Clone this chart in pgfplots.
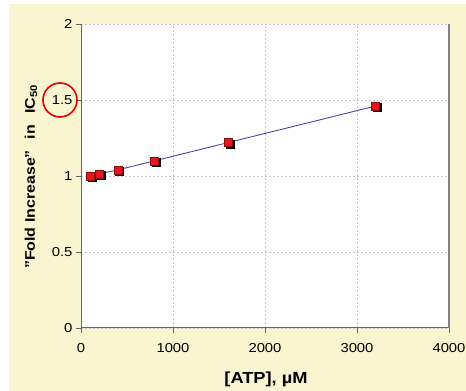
\documentclass[border=0pt]{standalone}
\usepackage{pgfplots}
\pgfplotsset{compat=1.18}
\usepackage{fontspec}
\setmainfont[FakeStretch=1.14]{Liberation Sans}
\definecolor{beige}{HTML}{F8F5D0}
\definecolor{linecol}{HTML}{4848A0}
\definecolor{mred}{HTML}{E8141C}
\definecolor{gridc}{HTML}{C8C8C8}
\begin{document}
\begin{tikzpicture}[x=1pt,y=1pt]
\useasboundingbox (0,0) rectangle (466,391);
\fill[white] (0,0) rectangle (466,391);
\fill[beige] (9,0) rectangle (466,387);
\begin{axis}[
  at={(81pt,63pt)}, anchor=south west,
  scale only axis, width=368pt, height=304pt,
  xmin=0, xmax=4000, ymin=0, ymax=2,
  xtick={0,1000,2000,3000,4000},
  ytick={0,0.5,1,1.5,2},
  axis x line*=bottom, axis y line*=left,
  axis line style={draw=gray!80!black, line width=1pt},
  axis background/.style={fill=white},
  tick align=outside, major tick length=5pt,
  tick style={draw=gray!80!black, line width=0.8pt},
  grid=major,
  major grid style={draw=gridc, dash pattern=on 2pt off 2pt, line width=0.6pt},
  tick label style={font=\fontsize{13}{15}\selectfont},
  /pgf/number format/assume math mode=true,
  /pgf/number format/1000 sep={},
  xticklabel={\rule{0pt}{16pt}\pgfmathprintnumber{\tick}},
  yticklabel={\pgfmathprintnumber{\tick}\hspace{7pt}},
  clip=false,
]
\draw[gray, line width=1.6pt] (rel axis cs:1,0) -- (rel axis cs:1,1);
\addplot[only marks, mark=square*, mark size=4pt, mark options={fill=black, draw=black},
  every mark/.append style={xshift=1.6pt, yshift=-1.6pt}]
  coordinates {(100,1.0) (200,1.015) (400,1.04) (800,1.10) (1600,1.22) (3200,1.46)};
\addplot[linecol, line width=0.9pt, mark=square*, mark size=4pt,
  mark options={fill=mred, draw=mred!60!black, line width=0.4pt}]
  coordinates {(100,1.0) (200,1.015) (400,1.04) (800,1.10) (1600,1.22) (3200,1.46)};
\end{axis}
\node[font=\fontsize{16}{18}\selectfont\bfseries] at (266,12) {[ATP], µM};
\node[font=\fontsize{14}{16}\selectfont\bfseries, rotate=90] at (31,214)
  {"Fold Increase"\hspace{11pt}in\hspace{11pt}IC\textsubscript{50}};
\draw[red!90!black, line width=1.6pt] (60,291) circle (17);
\end{tikzpicture}
\end{document}
